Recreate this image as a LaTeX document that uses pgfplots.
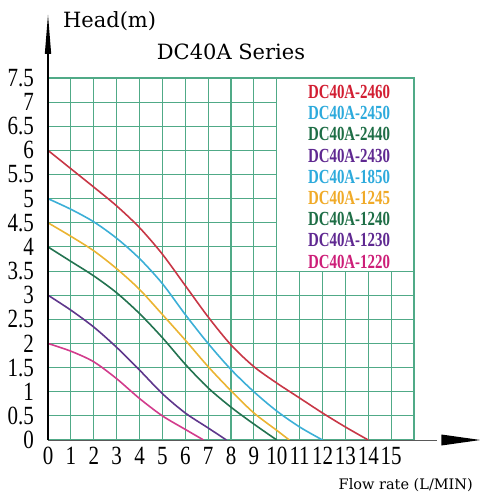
\documentclass[border=0pt]{standalone}
\usepackage{fontspec}
\usepackage{graphicx}
\usepackage{pgfplots}
\pgfplotsset{compat=1.18}
\usetikzlibrary{arrows.meta}
\setmainfont{DejaVu Serif}
\newfontfamily\timesf{Liberation Serif}
\newcommand\tlb[1]{\scalebox{1}[1.25]{#1}}
\newcommand\lgn[2]{\textcolor{#1}{\scalebox{0.745}[1]{#2}}}
\definecolor{gridg}{RGB}{80,170,135}
\definecolor{cred}{RGB}{200,55,70}
\definecolor{ccyan}{RGB}{60,175,215}
\definecolor{cgreen}{RGB}{35,115,80}
\definecolor{cpurple}{RGB}{95,55,140}
\definecolor{cyellow}{RGB}{235,180,50}
\definecolor{cpink}{RGB}{210,60,140}
\definecolor{tred}{RGB}{210,30,50}
\definecolor{tcyan}{RGB}{45,170,220}
\definecolor{tgreen}{RGB}{30,110,70}
\definecolor{tpurple}{RGB}{95,40,145}
\definecolor{torange}{RGB}{240,170,40}
\definecolor{tpink}{RGB}{205,30,120}
\begin{document}
\begin{tikzpicture}
\begin{axis}[
  at={(0,0)}, anchor=south west,
  scale only axis, width=366pt, height=362pt,
  xmin=0, xmax=16, ymin=0, ymax=7.5,
  axis line style={draw=none},
  clip=false,
  grid=major,
  major grid style={gridg, line width=1.1pt},
  major tick length=0pt,
  xtick={0,1,...,16},
  xticklabels={\tlb{0},\tlb{1},\tlb{2},\tlb{3},\tlb{4},\tlb{5},\tlb{6},\tlb{7},\tlb{8},\tlb{9},\tlb{10},\tlb{11},\tlb{12},\tlb{13},\tlb{14},\tlb{15},{}},
  ytick={0,0.5,...,7.5},
  yticklabels={\tlb{0},\tlb{0.5},\tlb{1},\tlb{1.5},\tlb{2},\tlb{2.5},\tlb{3},\tlb{3.5},\tlb{4},\tlb{4.5},\tlb{5},\tlb{5.5},\tlb{6},\tlb{6.5},\tlb{7},\tlb{7.5}},
  xticklabel style={font=\timesf\fontsize{21}{21}\selectfont, inner sep=0pt, anchor=north, yshift=-7pt},
  yticklabel style={font=\timesf\fontsize{21}{21}\selectfont, inner sep=0pt, anchor=east, xshift=-14pt},
  every axis plot/.append style={line width=1.6pt, smooth, no markers},
]
\fill[white] (axis cs:10,3.5) rectangle (axis cs:16,7.5);
\draw[gridg, line width=1.1pt] (axis cs:10,3.5) rectangle (axis cs:16,7.5);
\addplot[cred] coordinates {(0,6) (1,5.62) (2,5.24) (3,4.85) (4,4.4) (5,3.85) (6,3.2) (7,2.55) (8,1.97) (9,1.52) (10,1.18) (11,0.87) (12,0.56) (13,0.27) (14,0)};
\addplot[ccyan] coordinates {(0,5) (1,4.78) (2,4.52) (3,4.18) (4,3.76) (5,3.24) (6,2.6) (7,2.0) (8,1.46) (9,1.0) (10,0.6) (11,0.27) (12,0)};
\addplot[cyellow] coordinates {(0,4.5) (1,4.22) (2,3.92) (3,3.55) (4,3.12) (5,2.6) (6,2.07) (7,1.52) (8,1.02) (9,0.56) (10,0.2) (10.55,0)};
\addplot[cgreen] coordinates {(0,4) (1,3.7) (2,3.4) (3,3.05) (4,2.62) (5,2.12) (6,1.57) (7,1.08) (8,0.68) (9,0.33) (10,0)};
\addplot[cpurple] coordinates {(0,3) (1,2.69) (2,2.34) (3,1.92) (4,1.45) (5,0.96) (6,0.56) (7,0.25) (7.8,0)};
\addplot[cpink] coordinates {(0,2) (1,1.84) (2,1.62) (3,1.27) (4,0.86) (5,0.5) (6,0.22) (6.8,0)};
\draw[gray!70!black, line width=1pt] (axis cs:0,0) -- (axis cs:17,0);
\draw[black, line width=1.2pt] (axis cs:0,0) -- (axis cs:0,8.0);
\fill[black] (axis cs:17.2,0) ++(0,5.5pt) -- ++(39pt,-5.5pt) -- ++(-39pt,-5.5pt) -- cycle;
\fill[black] (axis cs:0,8.0) ++(-3.2pt,0) -- ++(3.2pt,39pt) -- ++(3.2pt,-39pt) -- cycle;
\node[anchor=west, font=\fontsize{21}{21}\selectfont, inner sep=0pt] at (axis cs:0.65,8.67) {Head(m)};
\node[font=\fontsize{21}{21}\selectfont, inner sep=0pt] at (axis cs:8.0,8.04) {DC40A Series};
\node[anchor=east, font=\fontsize{14.5}{14.5}\selectfont, inner sep=0pt] at (axis cs:18.58,-0.93) {Flow rate (L/MIN)};
\begin{scope}[every node/.style={font=\timesf\bfseries\fontsize{20}{20}\selectfont, inner sep=0pt}]
\node at (axis cs:13.16,7.21) {\lgn{tred}{DC40A-2460}};
\node at (axis cs:13.16,6.771) {\lgn{tcyan}{DC40A-2450}};
\node at (axis cs:13.16,6.332) {\lgn{tgreen}{DC40A-2440}};
\node at (axis cs:13.16,5.893) {\lgn{tpurple}{DC40A-2430}};
\node at (axis cs:13.16,5.454) {\lgn{tcyan}{DC40A-1850}};
\node at (axis cs:13.16,5.015) {\lgn{torange}{DC40A-1245}};
\node at (axis cs:13.16,4.576) {\lgn{tgreen}{DC40A-1240}};
\node at (axis cs:13.16,4.137) {\lgn{tpurple}{DC40A-1230}};
\node at (axis cs:13.16,3.698) {\lgn{tpink}{DC40A-1220}};
\end{scope}
\end{axis}
\pgfresetboundingbox
\path (-48pt,-60pt) rectangle (431pt,440pt);
\end{tikzpicture}
\end{document}
